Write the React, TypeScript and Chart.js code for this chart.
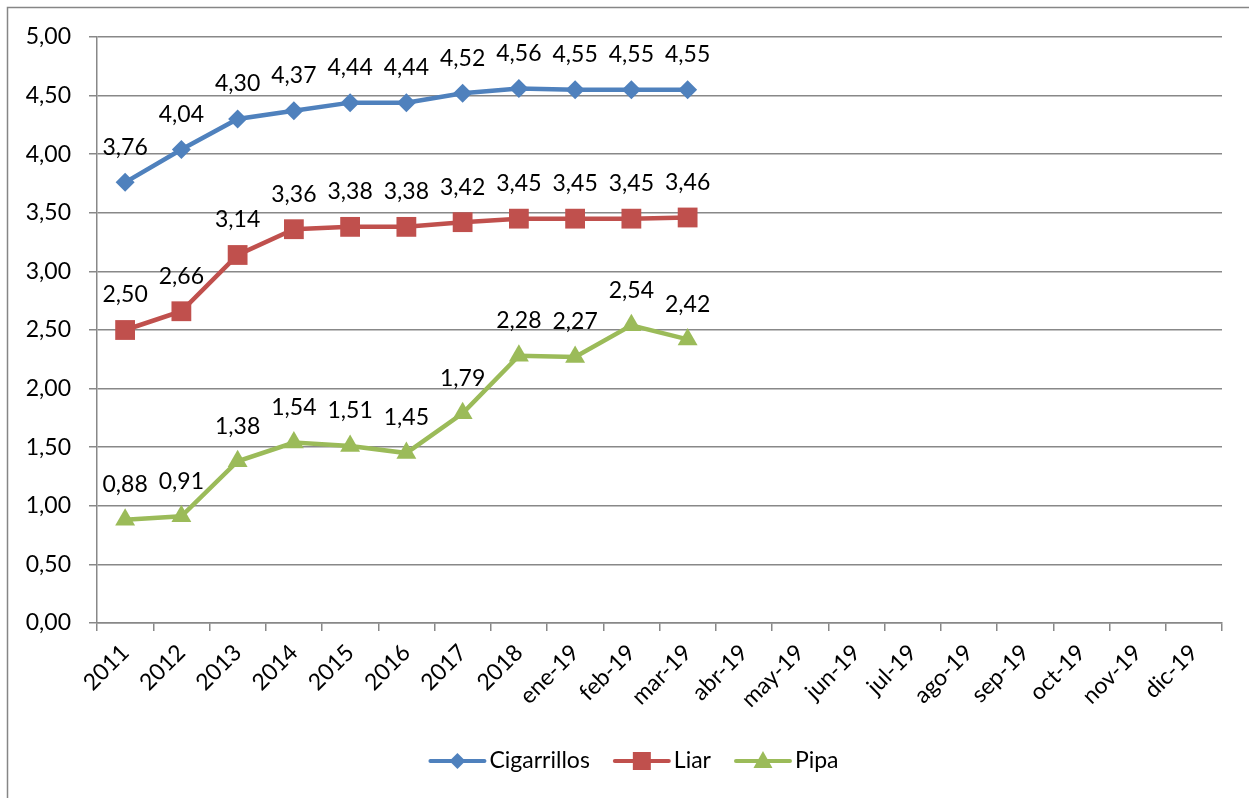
import React, { useEffect, useRef } from "react";
import { Chart, registerables } from "chart.js";

Chart.register(...registerables);

const categories = [
  "2011", "2012", "2013", "2014", "2015", "2016", "2017", "2018",
  "ene-19", "feb-19", "mar-19", "abr-19", "may-19", "jun-19", "jul-19",
  "ago-19", "sep-19", "oct-19", "nov-19", "dic-19",
];

const cigarrillos = [3.76, 4.04, 4.3, 4.37, 4.44, 4.44, 4.52, 4.56, 4.55, 4.55, 4.55, null, null, null, null, null, null, null, null, null];
const liar = [2.5, 2.66, 3.14, 3.36, 3.38, 3.38, 3.42, 3.45, 3.45, 3.45, 3.46, null, null, null, null, null, null, null, null, null];
const pipa = [0.88, 0.91, 1.38, 1.54, 1.51, 1.45, 1.79, 2.28, 2.27, 2.54, 2.42, null, null, null, null, null, null, null, null, null];

const seriesNames = ["Cigarrillos", "Liar", "Pipa"];
const FONT = "Lato, 'Open Sans', sans-serif";
const FS = 23;
const GRID = "#888888";

const fmt = (v: number) => v.toFixed(2).replace(".", ",");

const labelsPlugin = {
  id: "dataLabels",
  afterDatasetsDraw(chart: any) {
    const ctx = chart.ctx;
    ctx.save();
    ctx.font = `${FS}px ${FONT}`;
    ctx.fillStyle = "#000";
    ctx.textAlign = "center";
    ctx.textBaseline = "middle";
    chart.data.datasets.forEach((ds: any, i: number) => {
      const meta = chart.getDatasetMeta(i);
      meta.data.forEach((pt: any, j: number) => {
        const v = ds.data[j];
        if (v === null || v === undefined) return;
        ctx.fillText(fmt(v), pt.x, pt.y - 35);
      });
    });
    ctx.restore();
  },
};

const framePlugin = {
  id: "frameLegend",
  afterDraw(chart: any) {
    const ctx = chart.ctx;
    ctx.save();
    // outer border
    ctx.strokeStyle = "#868686";
    ctx.lineWidth = 1.5;
    ctx.strokeRect(7.5, 7.5, 1262, 800);
    // legend
    ctx.font = `${FS}px ${FONT}`;
    ctx.textBaseline = "middle";
    ctx.textAlign = "left";
    const lineW = 54;
    const gapText = 5;
    const gapItem = 25;
    const ds = chart.data.datasets;
    const widths = ds.map((d: any) => lineW + gapText + ctx.measureText(d.label).width);
    const total = widths.reduce((a: number, b: number) => a + b, 0) + gapItem * (ds.length - 1);
    let x = 634.5 - total / 2;
    const y = 761;
    ds.forEach((d: any, i: number) => {
      ctx.strokeStyle = d.borderColor;
      ctx.lineWidth = 4;
      ctx.lineCap = "round";
      ctx.beginPath();
      ctx.moveTo(x, y);
      ctx.lineTo(x + lineW, y);
      ctx.stroke();
      ctx.fillStyle = d.borderColor;
      const cx = x + lineW / 2;
      const ps = d.pointStyle;
      ctx.beginPath();
      if (ps === "rectRot") {
        const r = 8;
        ctx.moveTo(cx, y - r);
        ctx.lineTo(cx + r, y);
        ctx.lineTo(cx, y + r);
        ctx.lineTo(cx - r, y);
      } else if (ps === "rect") {
        const s = 9;
        ctx.rect(cx - s, y - s, 2 * s, 2 * s);
      } else {
        const r = 10;
        ctx.moveTo(cx, y - r);
        ctx.lineTo(cx + r * 0.95, y + r * 0.7);
        ctx.lineTo(cx - r * 0.95, y + r * 0.7);
      }
      ctx.closePath();
      ctx.fill();
      ctx.fillStyle = "#000";
      ctx.fillText(d.label, x + lineW + gapText, y);
      x += widths[i] + gapItem;
    });
    ctx.restore();
  },
};

export default function App() {
  const ref = useRef<HTMLCanvasElement | null>(null);
  useEffect(() => {
    if (!ref.current) return;
    const mk = (label: string, data: any[], color: string, style: string, r: number) => ({
      label,
      data,
      borderColor: color,
      backgroundColor: color,
      borderWidth: 4.5,
      pointStyle: style,
      pointRadius: r,
      pointHoverRadius: r,
      pointBorderWidth: 0,
      pointBackgroundColor: color,
      tension: 0,
      spanGaps: false,
    });
    const chart = new Chart(ref.current, {
      type: "line",
      data: {
        labels: categories,
        datasets: [
          mk(seriesNames[0], cigarrillos, "#4F81BD", "rectRot", 9.5),
          mk(seriesNames[1], liar, "#C0504D", "rect", 14),
          mk(seriesNames[2], pipa, "#9BBB59", "triangle", 11.5),
        ],
      },
      options: {
        responsive: false,
        animation: false,
        events: [],
        layout: { padding: { top: 37, left: 0, right: 27, bottom: 0 } },
        plugins: {
          legend: { display: false },
          tooltip: { enabled: false },
        },
        scales: {
          x: {
            offset: true,
            grid: {
              offset: true,
              drawOnChartArea: false,
              drawTicks: true,
              tickLength: 8,
              color: GRID,
              lineWidth: 1.5,
            },
            border: { color: GRID, width: 1.5 },
            ticks: {
              color: "#000",
              font: { family: FONT, size: FS },
              maxRotation: 45,
              minRotation: 45,
              autoSkip: false,
              padding: 8,
            },
            afterFit: (s: any) => {
              s.height = 175;
            },
          },
          y: {
            min: 0,
            max: 5,
            ticks: {
              stepSize: 0.5,
              color: "#000",
              font: { family: FONT, size: FS },
              padding: 18,
              callback: (v: any) => fmt(Number(v)),
            },
            grid: { color: GRID, lineWidth: 1.5, tickLength: 8 },
            border: { color: GRID, width: 1.5 },
            afterFit: (s: any) => {
              s.width = 97;
            },
          },
        },
      },
      plugins: [labelsPlugin, framePlugin],
    } as any);
    return () => chart.destroy();
  }, []);
  return (
    <div style={{ position: "absolute", left: 0, top: 0, width: 1249, height: 798, background: "#fff" }}>
      <canvas ref={ref} width={1249} height={798} style={{ display: "block" }} />
    </div>
  );
}
